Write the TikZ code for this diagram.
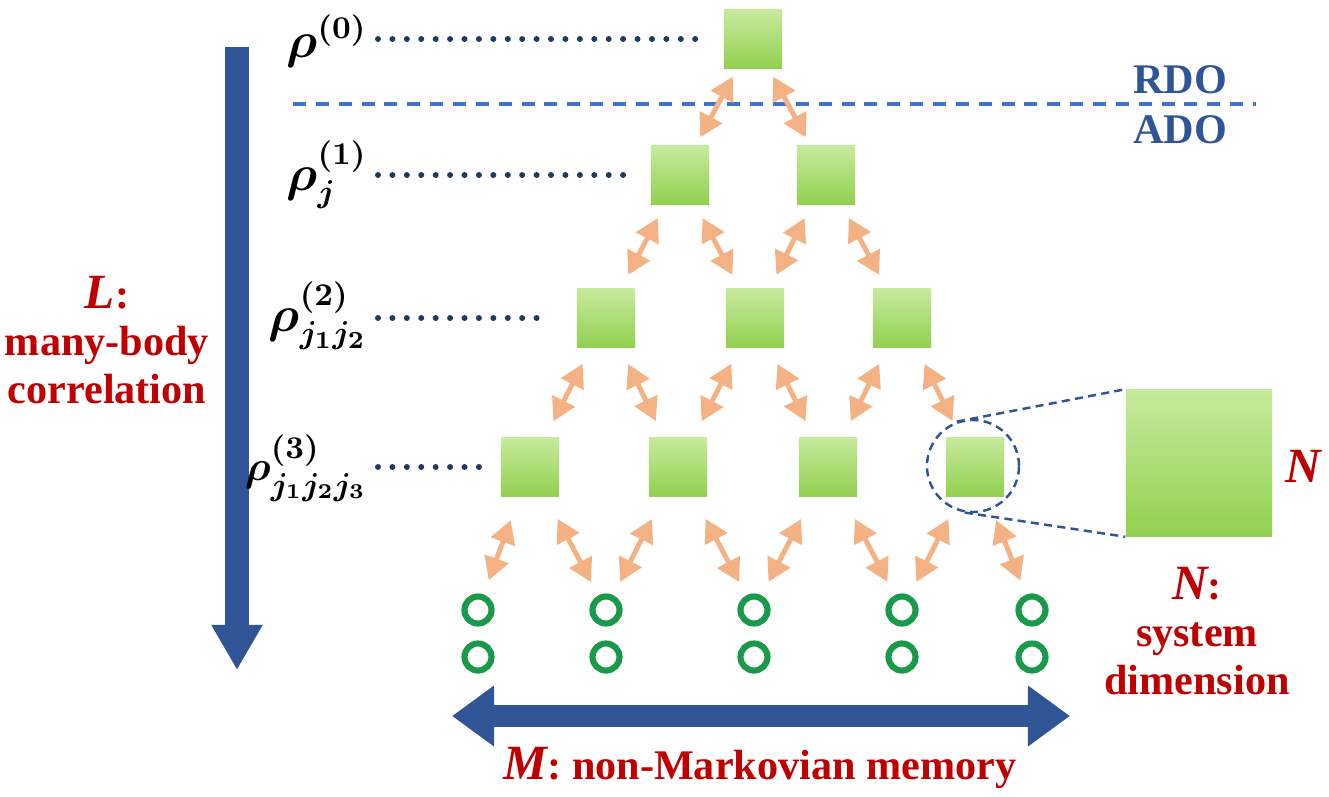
\documentclass[tikz,border=0pt]{standalone}
\usepackage{amsmath,bm}
\usepackage[no-math]{fontspec}
\setmainfont{Liberation Serif}
\usetikzlibrary{arrows.meta}
\definecolor{sqtop}{RGB}{198,234,156}
\definecolor{sqbot}{RGB}{146,208,80}
\definecolor{bathgreen}{RGB}{24,154,74}
\definecolor{darkblue}{RGB}{47,85,151}
\definecolor{dotnavy}{RGB}{32,56,100}
\definecolor{lineblue}{RGB}{68,114,196}
\definecolor{peach}{RGB}{244,177,131}
\definecolor{darkred}{RGB}{192,0,0}
\begin{document}
\begin{tikzpicture}[x=0.01cm, y=-0.01cm,
	ado/.style={draw=none, minimum size=0.58cm, inner sep=0, top color=sqtop, bottom color=sqbot},
	bath/.style={circle, draw=bathgreen, line width=1.75pt, minimum size=0.27cm, inner sep=0},
	link/.style={peach, line width=1.4pt, {Triangle[length=6.5pt,width=7pt]}-{Triangle[length=6.5pt,width=7pt]}},
	dotline/.style={dotnavy, line width=1.7pt, line cap=round, dash pattern=on 0pt off 4.1pt},
	sepline/.style={lineblue, line width=0.9pt, dash pattern=on 3.7pt off 2.8pt},
	zoomline/.style={darkblue, line width=0.7pt, dash pattern=on 2.3pt off 1.5pt},
	bigarrow/.style={darkblue, line width=0.24cm},
	rholabel/.style={anchor=east, inner sep=0, font=\fontsize{13.5}{15}\selectfont},
	redtext/.style={darkred, align=center, font=\bfseries\fontsize{12}{13.4}\selectfont},
	bluetext/.style={darkblue, font=\bfseries\fontsize{12}{14}\selectfont}]
	\useasboundingbox (0,0) rectangle (1329,796);

	\coordinate (ltop) at (237,47);
	\coordinate (lend) at (237,670);
	\draw[bigarrow, -{Triangle[length=0.45cm,width=0.48cm]}] (ltop) -- (lend);
	\coordinate (mleft) at (452,716);
	\coordinate (mright) at (1070,716);
	\draw[bigarrow, line width=0.22cm, {Triangle[length=0.42cm,width=0.58cm]}-{Triangle[length=0.42cm,width=0.58cm]}] (mleft) -- (mright);

	\node[ado] (s00) at (753,39) {};
	\node[ado] (s10) at (680,175) {};
	\node[ado] (s11) at (826,175) {};
	\node[ado] (s20) at (606,318) {};
	\node[ado] (s21) at (755,318) {};
	\node[ado] (s22) at (902,318) {};
	\node[ado] (s30) at (530,467) {};
	\node[ado] (s31) at (678,467) {};
	\node[ado] (s32) at (828,467) {};
	\node[ado] (s33) at (975,467) {};
	\node[ado, minimum size=1.46cm] (big) at (1199,463) {};

	\foreach \x [count=\i] in {478,606,754,902,1032} {
		\node[bath] (c\i) at (\x,610) {};
		\node[bath] (d\i) at (\x,657) {};
	}

	\node[rholabel] (r0) at (368,41) {$\bm{\rho}^{\bm{(0)}}$};
	\node[rholabel] (r1) at (368,175) {$\bm{\rho}_{\bm{j}}^{\bm{(1)}}$};
	\node[rholabel] (r2) at (368,316) {$\bm{\rho}_{\bm{j_1j_2}}^{\bm{(2)}}$};
	\node[rholabel, font=\fontsize{12.5}{15}\selectfont] (r3) at (368,468) {$\bm{\rho}_{\bm{j_1j_2j_3}}^{\bm{(3)}}$};
	\foreach \r/\s/\g in {r0/s00/0.22cm, r1/s10/0.17cm, r2/s20/0.3cm, r3/s30/0.1cm}
		\draw[dotline, shorten <=0.1cm, shorten >=\g] (\r.east |- \s) -- (\s);

	\coordinate (sepl) at (293,104);
	\coordinate (sepr) at (1256,104);
	\draw[sepline] (sepl) -- (sepr);
	\node[bluetext] (rdo) at (1180,80) {RDO};
	\node[bluetext] (adol) at (1180,130) {ADO};

	\foreach \a/\b in {s00/s10, s00/s11}
		\draw[link, shorten <=0.09cm, shorten >=0.09cm] (\a) -- (\b);
	\foreach \a/\b in {s10/s20, s10/s21, s11/s21, s11/s22}
		\draw[link, shorten <=0.15cm, shorten >=0.15cm] (\a) -- (\b);
	\foreach \a/\b in {s20/s30, s20/s31, s21/s31, s21/s32, s22/s32, s22/s33}
		\draw[link, shorten <=0.18cm, shorten >=0.18cm] (\a) -- (\b);
	\foreach \a/\b in {s30/c1, s30/c2, s31/c2, s31/c3, s32/c3, s32/c4, s33/c4, s33/c5}
		\draw[link, shorten <=0.25cm, shorten >=0.15cm] (\a) -- (\b);

	\node[circle, minimum size=0.92cm, draw=darkblue, line width=0.7pt, dash pattern=on 2.3pt off 1.5pt] (zoom) at (973,466) {};
	\draw[zoomline] (zoom.110) -- (big.north west);
	\draw[zoomline] (zoom.-100) -- (big.south west);
	\node[redtext] (nlab) at (1303,466) {\fontsize{14}{14}\selectfont\itshape N};

	\node[redtext] (llab) at (107,340) {{\fontsize{14}{14}\selectfont\itshape L}:\\many-body\\correlation};
	\node[redtext] (ndim) at (1197,631) {{\fontsize{14}{14}\selectfont\itshape N}:\\system\\dimension};
	\node[redtext] (mlab) at (760,768) {{\fontsize{14}{14}\selectfont\itshape M}: non-Markovian memory};
\end{tikzpicture}
\end{document}
